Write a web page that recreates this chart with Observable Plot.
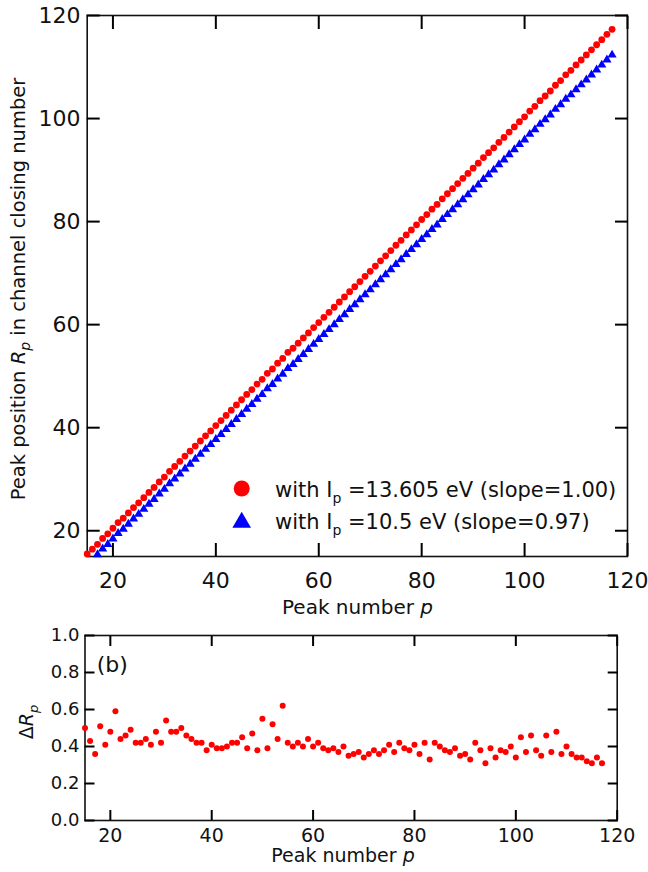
<!DOCTYPE html>
<html><head><meta charset="utf-8">
<script src="https://cdn.jsdelivr.net/npm/d3@7"></script>
<script src="https://cdn.jsdelivr.net/npm/@observablehq/plot@0.6"></script>
<style>
body{margin:0;background:#fff;}
#wrap{position:relative;width:648px;height:872px;background:#fff;}
#wrap svg{position:absolute;left:0;overflow:visible;}
</style>
</head><body><div id="wrap"></div>
<script>
// ---------- data ----------
const peakNumbers = d3.range(15, 118); // p = 15 … 117
const deltaR = [0.50,0.43,0.36,0.51,0.41,0.48,0.59,0.44,0.46,0.49,0.42,0.42,0.44,0.41,0.48,0.42,0.54,0.48,0.48,0.50,
0.46,0.44,0.42,0.42,0.38,0.41,0.39,0.39,0.40,0.42,0.42,0.45,0.39,0.47,0.38,0.55,0.39,0.52,0.44,0.62,
0.42,0.40,0.42,0.40,0.44,0.40,0.42,0.39,0.38,0.39,0.37,0.40,0.35,0.36,0.37,0.34,0.36,0.38,0.36,0.38,
0.41,0.37,0.42,0.39,0.38,0.41,0.36,0.42,0.33,0.42,0.40,0.38,0.37,0.39,0.35,0.36,0.33,0.42,0.38,0.31,
0.39,0.34,0.38,0.37,0.40,0.34,0.45,0.37,0.46,0.38,0.35,0.46,0.37,0.48,0.36,0.40,0.36,0.34,0.34,0.32,
0.31,0.34,0.31];
const redR = [15.50,16.43,17.36,18.51,19.41,20.48,21.59,22.44,23.46,24.49,25.42,26.42,27.44,28.41,29.48,30.42,31.54,32.48,33.48,34.50,
35.46,36.44,37.42,38.42,39.38,40.41,41.39,42.39,43.40,44.42,45.42,46.45,47.39,48.47,49.38,50.55,51.39,52.52,53.44,54.62,
55.42,56.40,57.42,58.40,59.44,60.40,61.42,62.39,63.38,64.39,65.37,66.40,67.35,68.36,69.37,70.34,71.36,72.38,73.36,74.38,
75.41,76.37,77.42,78.39,79.38,80.41,81.36,82.42,83.33,84.42,85.40,86.38,87.37,88.39,89.35,90.36,91.33,92.42,93.38,94.31,
95.39,96.34,97.38,98.37,99.40,100.34,101.45,102.37,103.46,104.38,105.35,106.46,107.37,108.48,109.36,110.40,111.36,112.34,113.34,114.32,
115.31,116.34,117.31];
const bluePeakNumbers = d3.range(17, 118);
const blueR = [15.39,16.50,17.38,18.42,19.49,20.32,21.31,22.31,23.21,24.18,25.17,26.11,27.15,28.06,29.14,30.06,31.03,32.02,
32.95,33.90,34.85,35.82,36.75,37.75,38.70,39.67,40.65,41.64,42.61,43.61,44.52,45.57,46.45,47.58,48.40,49.49,50.39,51.53,
52.31,53.26,54.25,55.20,56.21,57.14,58.13,59.07,60.03,61.01,61.96,62.96,63.88,64.86,65.84,66.78,67.77,68.76,69.71,70.70,
71.70,72.63,73.65,74.59,75.55,76.55,77.47,78.50,79.38,80.44,81.39,82.34,83.30,84.29,85.22,86.20,87.14,88.20,89.13,90.03,
91.08,92.00,93.01,93.97,94.97,95.88,96.96,97.85,98.91,99.80,100.74,101.82,102.70,103.78,104.63,105.64,106.57,107.52,108.49,
109.44,110.40,111.40,112.34];
const xTicks = [20, 40, 60, 80, 100, 120];
const yTicksTop = [20, 40, 60, 80, 100, 120];
const yTicksBottom = [0, 0.2, 0.4, 0.6, 0.8, 1.0];
const legendMain = ["with I", "with I"];
const legendRest = [" =13.605 eV (slope=1.00)", " =10.5 eV (slope=0.97)"];

const redData = peakNumbers.map((p, i) => ({p, R: redR[i]}));
const blueData = bluePeakNumbers.map((p, i) => ({p, R: blueR[i]}));
const deltaData = peakNumbers.map((p, i) => ({p, d: deltaR[i]}));

const FONT = "DejaVu Sans";
const INK = "#111";
const RED = "#ff0000", BLUE = "#0000ff";
const wrap = document.getElementById("wrap");

// inward ticks on all four sides (negative tick size), labels only bottom/left
function frameAxes(xt, yt, len, xPad, yPad, yFormat, xFont) {
  const s = {stroke: "#000", strokeWidth: 2, label: null};
  return [
    Plot.axisX({...s, ticks: xt, tickSize: -len, tickPadding: xPad + len, fill: INK, ...(xFont ? {fontSize: xFont} : {})}),
    Plot.axisX({...s, anchor: "top", ticks: xt, tickSize: -len, tickFormat: () => ""}),
    Plot.axisY({...s, ticks: yt, tickSize: -len, tickPadding: yPad + len, fill: INK, ...(yFormat ? {tickFormat: yFormat} : {})}),
    Plot.axisY({...s, anchor: "right", ticks: yt, tickSize: -len, tickFormat: () => ""})
  ];
}

// ---------- top panel ----------
const topPlot = Plot.plot({
  width: 648, height: 622,
  marginLeft: 86.7, marginRight: 21, marginTop: 15, marginBottom: 66,
  style: {fontFamily: FONT, fontSize: "22px"},
  x: {domain: [15, 120]},
  y: {domain: [15, 120]},
  marks: [
    Plot.frame({stroke: INK, strokeWidth: 1.6}),
    Plot.dot(redData, {x: "p", y: "R", r: 3.4, fill: RED}),
    Plot.dot(blueData, {x: "p", y: "R", symbol: "triangle", r: 3.4, fill: BLUE}),
    ...frameAxes(xTicks, yTicksTop, 13, 16, 6.7, null, null)
  ]
});
topPlot.style.top = "0px";
wrap.appendChild(topPlot);

const ts = d3.select(topPlot);
// y label
const yl = ts.append("text")
  .attr("transform", "translate(25,289) rotate(-90)")
  .attr("text-anchor", "middle")
  .attr("font-family", FONT).attr("font-size", 19.5).attr("fill", INK);
yl.append("tspan").text("Peak position ");
yl.append("tspan").attr("font-style", "italic").text("R");
yl.append("tspan").attr("font-style", "italic").attr("font-size", 14).attr("dy", 5).text("p");
yl.append("tspan").attr("dy", -5).text(" in channel closing number");
// x label
const xl = ts.append("text")
  .attr("x", 357.5).attr("y", 614).attr("text-anchor", "middle")
  .attr("font-family", FONT).attr("font-size", 20).attr("fill", INK);
xl.append("tspan").text("Peak number ");
xl.append("tspan").attr("font-style", "italic").text("p");
// legend
const lg = ts.append("g").attr("font-family", FONT).attr("font-size", 21).attr("fill", INK).attr("text-anchor", "start");
lg.append("circle").attr("cx", 241.7).attr("cy", 488.5).attr("r", 8).attr("fill", RED);
lg.append("path").attr("d", d3.symbol(d3.symbolTriangle, 150)()).attr("transform", "translate(241.7,522.5)").attr("fill", BLUE);
[496.7, 528.5].forEach((yb, i) => {
  const t = lg.append("text").attr("x", 275).attr("y", yb);
  t.append("tspan").text(legendMain[i]);
  t.append("tspan").attr("font-size", 14).attr("dy", 6).text("p");
  t.append("tspan").attr("dy", -6).text(legendRest[i]);
});

// ---------- bottom panel ----------
const botPlot = Plot.plot({
  width: 648, height: 250,
  marginLeft: 84.5, marginRight: 31.3, marginTop: 13, marginBottom: 52,
  style: {fontFamily: FONT, fontSize: "18px"},
  x: {domain: [15, 120]},
  y: {domain: [0, 1]},
  marks: [
    Plot.frame({stroke: INK, strokeWidth: 1.6}),
    Plot.dot(deltaData, {x: "p", y: "d", r: 3, fill: RED}),
    ...frameAxes(xTicks, yTicksBottom, 10, 8, 5.5, d3.format(".1f"), 19)
  ]
});
botPlot.style.top = "622px";
wrap.appendChild(botPlot);

const bs = d3.select(botPlot);
const dl = bs.append("text")
  .attr("transform", "translate(33,100) rotate(-90)")
  .attr("text-anchor", "middle")
  .attr("font-family", FONT).attr("font-size", 19).attr("fill", INK);
dl.append("tspan").text("\u0394");
dl.append("tspan").attr("font-style", "italic").text("R");
dl.append("tspan").attr("font-style", "italic").attr("font-size", 13).attr("dy", 5).text("p");
bs.append("text").attr("x", 96.7).attr("y", 50).attr("text-anchor", "start")
  .attr("font-family", FONT).attr("font-size", 22).attr("fill", INK).text("(b)");
const bx = bs.append("text")
  .attr("x", 343).attr("y", 240).attr("text-anchor", "middle")
  .attr("font-family", FONT).attr("font-size", 19).attr("fill", INK);
bx.append("tspan").text("Peak number ");
bx.append("tspan").attr("font-style", "italic").text("p");
</script>
</body></html>
